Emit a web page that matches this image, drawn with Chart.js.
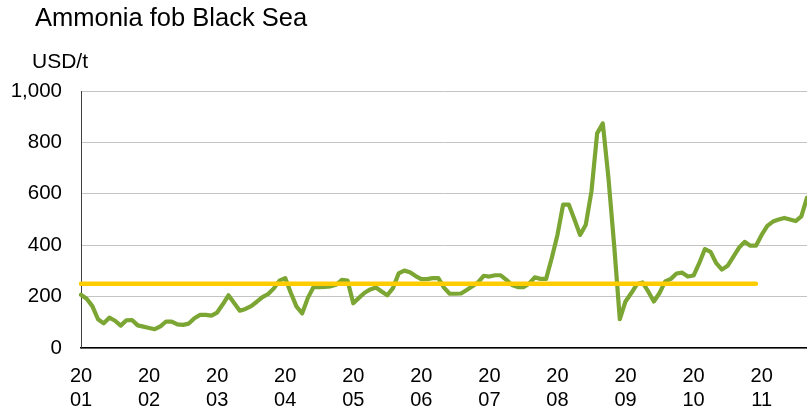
<!DOCTYPE html>
<html>
<head>
<meta charset="utf-8">
<script src="https://cdn.jsdelivr.net/npm/chart.js@4.4.0/dist/chart.umd.min.js"></script>
<style>
  body { margin: 0; background: #fff; }
  #wrap { position: relative; width: 807px; height: 411px; }
</style>
</head>
<body>
<div id="wrap"><canvas id="myChart" width="807" height="411"></canvas></div>
<script>
// chart texts
const title = 'Ammonia fob Black Sea';
const unit = 'USD/t';

// x categories: one per month, Jan 2001 onwards
const years = ['2001', '2002', '2003', '2004', '2005', '2006', '2007', '2008', '2009', '2010', '2011'];

// monthly price, USD/t
const price = [
  207, 192, 163, 112, 96, 118, 106, 87, 108, 109, 88, 83,      // 2001
  78, 73, 84, 103, 103, 92, 90, 95, 116, 129, 129, 126,        // 2002
  138, 170, 205, 175, 145, 152, 163, 180, 198, 210, 232, 262,  // 2003
  272, 214, 161, 135, 195, 237, 237, 238, 240, 246, 265, 262,  // 2004
  174, 195, 215, 228, 235, 220, 205, 233, 290, 301, 295, 280,  // 2005
  268, 268, 272, 272, 235, 211, 211, 212, 226, 240, 255, 281,  // 2006
  278, 283, 283, 265, 245, 237, 237, 250, 275, 269, 269, 350,  // 2007
  440, 558, 558, 500, 440, 480, 610, 835, 874, 660, 400, 112,  // 2008
  181, 213, 248, 255, 220, 181, 214, 259, 269, 290, 293, 278,  // 2009
  282, 330, 385, 374, 330, 305, 320, 355, 390, 413, 398, 398,  // 2010
  440, 475, 492, 500, 506, 500, 494, 512, 585                  // 2011
];

// long-term average line
const avgLevel = 250;
const avgFrom = '2001-01';
const avgTo = '2010-12';

// y axis
const yMin = 0, yMax = 1000, yStep = 200;

let months = [];
years.forEach(function (y) {
  for (let m = 1; m <= 12; m++) {
    months.push(y + '-' + String(m).padStart(2, '0'));
  }
});
months = months.slice(0, price.length);

const FONT = '"Liberation Sans", Arial, sans-serif';

// title + unit drawn above the plot
const headerText = {
  id: 'headerText',
  afterDraw(chart) {
    const ctx = chart.ctx;
    ctx.save();
    ctx.fillStyle = '#000';
    ctx.textAlign = 'left';
    ctx.textBaseline = 'alphabetic';
    ctx.font = '25.5px ' + FONT;
    ctx.fillText(title, 35, 26);
    ctx.font = '21px ' + FONT;
    ctx.fillText(unit, 32, 68);
    ctx.restore();
  }
};

let chart = document.getElementById('myChart');

const config = {
  type: 'line',
  data: {
    labels: months,
    datasets: [{
      label: 'Average',
      data: [{ x: avgFrom, y: avgLevel }, { x: avgTo, y: avgLevel }],
      borderColor: 'rgb(255, 204, 0)',
      borderWidth: 4.5,
      borderCapStyle: 'round',
      pointRadius: 0,
      fill: false,
      order: 0
    }, {
      label: 'Ammonia fob Black Sea',
      data: price,
      borderColor: 'rgb(124, 166, 52)',
      borderWidth: 4.2,
      borderJoinStyle: 'round',
      borderCapStyle: 'round',
      pointRadius: 0,
      tension: 0,
      fill: false,
      order: 1
    }]
  },
  options: {
    responsive: false,
    animation: false,
    layout: { padding: { top: 91, right: 0, bottom: 0, left: 0 } },
    plugins: {
      legend: { display: false },
      title: { display: false },
      tooltip: { enabled: false }
    },
    scales: {
      x: {
        type: 'category',
        offset: false,
        grid: { display: false, drawTicks: false },
        border: { display: true, color: '#000', width: 1.5 },
        ticks: {
          autoSkip: false,
          maxRotation: 0,
          minRotation: 0,
          padding: 16,
          color: '#000',
          font: { family: FONT, size: 20, lineHeight: 1.2 },
          callback: function (val, idx) {
            let lab = months[idx];
            if (lab.slice(5) !== '01') return '';
            return [lab.slice(0, 2), lab.slice(2, 4)];
          }
        },
        afterFit: function (scale) {
          scale.height = 63;
          scale.paddingLeft = 0;
          scale.paddingRight = 0;
        }
      },
      y: {
        min: yMin,
        max: yMax,
        grid: { color: '#c4c4c4', lineWidth: 1, drawTicks: false },
        border: { display: true, color: '#404040', width: 1 },
        ticks: {
          stepSize: yStep,
          padding: 19,
          color: '#000',
          font: { family: FONT, size: 20.5 },
          callback: function (v) { return v.toLocaleString('en-US'); }
        },
        afterFit: function (scale) { scale.width = 81; }
      }
    }
  },
  plugins: [headerText]
};

var myChart = new Chart(chart, config);
</script>
</body>
</html>
